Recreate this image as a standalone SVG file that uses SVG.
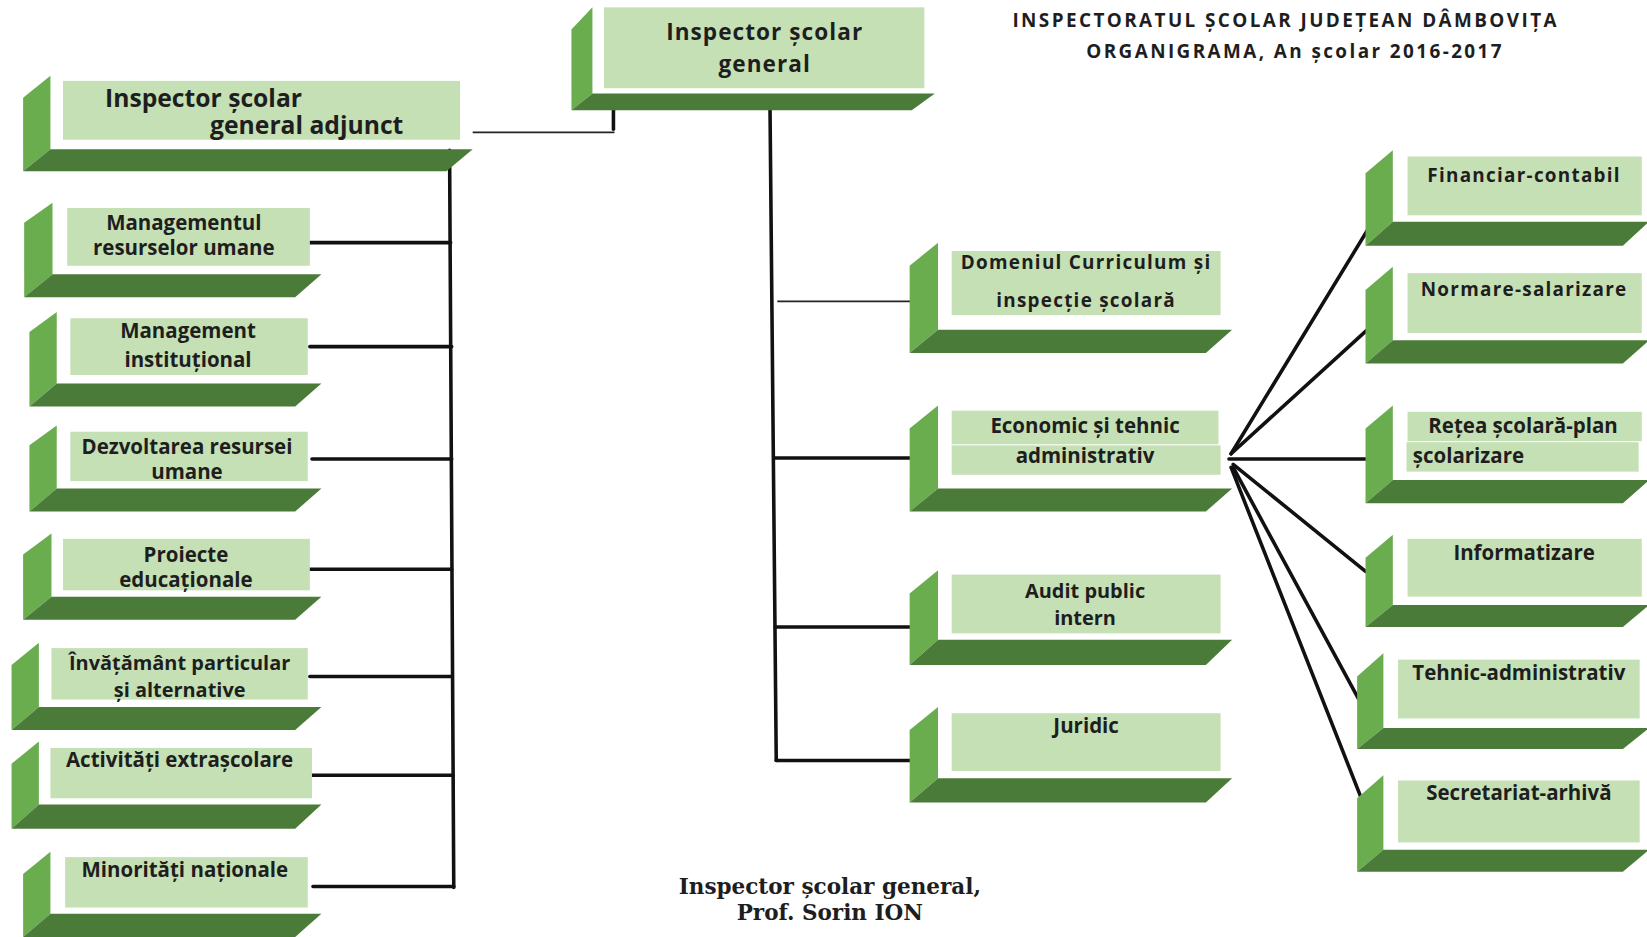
<svg xmlns="http://www.w3.org/2000/svg" width="1647" height="937" viewBox="0 0 1647 937">
<style>
.lf{fill:#6aad4f}
.bf{fill:#4b7b38}
.lb{fill:#c5e0b4}
.t{font-family:"Open Sans","Liberation Sans",sans-serif;font-weight:bold;fill:#1e1e1e;text-anchor:middle;font-size:19.5px}
.s{letter-spacing:1.2px;font-size:18px}
.c{stroke:#111;stroke-width:3.4;fill:none;stroke-linecap:round}
.th{stroke:#222;stroke-width:1.6;fill:none}
.hd{font-family:"Open Sans","Liberation Sans",sans-serif;font-weight:bold;fill:#1e1e1e;text-anchor:middle;font-size:18px;letter-spacing:2.3px}
.sg{font-family:"DejaVu Serif","Liberation Serif",serif;font-weight:bold;fill:#1e1e1e;text-anchor:middle;font-size:20.5px}
</style>
<rect width="1647" height="937" fill="#ffffff"/>
<g transform="scale(1.0504)">
<g id="connectors">
<path class="th" d="M450,126 L585,126"/>
<path class="c" d="M584,96 L584,123"/>
<path class="c" d="M733,96 L739,724"/>
<path class="th" d="M740,287 L880,287"/>
<path class="c" d="M737,436 L873,436"/>
<path class="c" d="M738,597 L873,597"/>
<path class="c" d="M739,724 L873,724"/>
<path class="c" d="M428,143 L432,845"/>
<path class="c" d="M295,231 L429,231"/>
<path class="c" d="M295,330 L430,330"/>
<path class="c" d="M297,437 L430,437"/>
<path class="c" d="M295,542 L430,542"/>
<path class="c" d="M295,644 L430,644"/>
<path class="c" d="M297,738 L431,738"/>
<path class="c" d="M298,844 L432,844"/>
<path class="c" d="M1172,432 L1305,214"/>
<path class="c" d="M1172,432 L1305,311"/>
<path class="c" d="M1170,437 L1305,437"/>
<path class="c" d="M1174,442 L1300,544"/>
<path class="c" d="M1174,445 L1298,674"/>
<path class="c" d="M1172,445 L1298,765"/>
</g>

<g id="n-general">
<polygon class="lf" points="544,28 564,7 564,89 544,105"/>
<polygon class="bf" points="544,105 564,89 890,89 868,105"/>
<rect class="lb" x="575" y="7" width="305" height="77"/>
<text class="t" x="728" y="38" style="font-size:21.5px;letter-spacing:1px">Inspector școlar</text>
<text class="t" x="728" y="69" style="font-size:21.5px;letter-spacing:1px">general</text>
</g>

<g id="n-adjunct">
<polygon class="lf" points="22,93 48,72 48,142 22,163"/>
<polygon class="bf" points="22,163 48,142 450,142 425,163"/>
<rect class="lb" x="60" y="77" width="378" height="56"/>
<text class="t" x="100" y="102" style="text-anchor:start;font-size:23.5px">Inspector școlar</text>
<text class="t" x="200" y="128" style="text-anchor:start;font-size:23.5px">general adjunct</text>
</g>

<g id="n-mru">
<polygon class="lf" points="23,212 50,193 50,261 23,283"/>
<polygon class="bf" points="23,283 50,261 306,261 281,283"/>
<rect class="lb" x="64" y="198" width="231" height="55"/>
<text class="t" x="175" y="219">Managementul</text>
<text class="t" x="175" y="243">resurselor umane</text>
</g>

<g id="n-mi">
<polygon class="lf" points="28,316 54,297 54,365 28,387"/>
<polygon class="bf" points="28,387 54,365 306,365 281,387"/>
<rect class="lb" x="67" y="303" width="226" height="54"/>
<text class="t" x="179" y="322">Management</text>
<text class="t" x="179" y="349">instituțional</text>
</g>

<g id="n-dru">
<polygon class="lf" points="28,424 54,405 54,465 28,487"/>
<polygon class="bf" points="28,487 54,465 306,465 281,487"/>
<rect class="lb" x="67" y="411" width="226" height="47"/>
<text class="t" x="178" y="432">Dezvoltarea resursei</text>
<text class="t" x="178" y="456">umane</text>
</g>

<g id="n-pe">
<polygon class="lf" points="22,528 49,508 49,568 22,590"/>
<polygon class="bf" points="22,590 49,568 306,568 281,590"/>
<rect class="lb" x="60" y="513" width="235" height="49"/>
<text class="t" x="177" y="535">Proiecte</text>
<text class="t" x="177" y="559">educaționale</text>
</g>

<g id="n-ipa">
<polygon class="lf" points="11,633 37,612 37,673 11,695"/>
<polygon class="bf" points="11,695 37,673 306,673 281,695"/>
<rect class="lb" x="49" y="617" width="244" height="49"/>
<text class="t" x="171" y="638" style="font-size:19px">Învățământ particular</text>
<text class="t" x="171" y="664" style="font-size:19px">și alternative</text>
</g>

<g id="n-ae">
<polygon class="lf" points="11,727 37,706 37,766 11,789"/>
<polygon class="bf" points="11,789 37,766 306,766 281,789"/>
<rect class="lb" x="48" y="712" width="249" height="48"/>
<text class="t" x="171" y="730">Activități extrașcolare</text>
</g>

<g id="n-mn">
<polygon class="lf" points="22,832 48,811 48,870 22,892"/>
<polygon class="bf" points="22,892 48,870 306,870 281,892"/>
<rect class="lb" x="62" y="816" width="231" height="48"/>
<text class="t" x="176" y="835">Minorități naționale</text>
</g>

<g id="n-dc">
<polygon class="lf" points="866,253 893,231 893,314 866,336"/>
<polygon class="bf" points="866,336 893,314 1173,314 1148,336"/>
<rect class="lb" x="906" y="239" width="256" height="61"/>
<text class="t s" x="1034" y="256">Domeniul Curriculum și</text>
<text class="t s" x="1034" y="292">inspecție școlară</text>
</g>

<g id="n-eta">
<polygon class="lf" points="866,408 893,386 893,465 866,487"/>
<polygon class="bf" points="866,487 893,465 1173,465 1148,487"/>
<rect class="lb" x="906" y="391" width="254" height="32"/>
<rect class="lb" x="906" y="424" width="256" height="28"/>
<text class="t" x="1033" y="412">Economic și tehnic</text>
<text class="t" x="1033" y="441">administrativ</text>
</g>

<g id="n-api">
<polygon class="lf" points="866,565 893,543 893,609 866,633"/>
<polygon class="bf" points="866,633 893,609 1173,609 1148,633"/>
<rect class="lb" x="906" y="547" width="256" height="56"/>
<text class="t" x="1033" y="569" style="font-size:19px">Audit public</text>
<text class="t" x="1033" y="595" style="font-size:19px">intern</text>
</g>

<g id="n-jur">
<polygon class="lf" points="866,695 893,673 893,741 866,764"/>
<polygon class="bf" points="866,764 893,741 1173,741 1148,764"/>
<rect class="lb" x="906" y="679" width="256" height="55"/>
<text class="t" x="1034" y="698">Juridic</text>
</g>

<g id="n-fc">
<polygon class="lf" points="1300,165 1326,143 1326,211 1300,234"/>
<polygon class="bf" points="1300,234 1326,211 1570,211 1545,234"/>
<rect class="lb" x="1340" y="149" width="223" height="56"/>
<text class="t s" x="1451" y="173">Financiar-contabil</text>
</g>

<g id="n-ns">
<polygon class="lf" points="1300,276 1326,254 1326,324 1300,346"/>
<polygon class="bf" points="1300,346 1326,324 1570,324 1545,346"/>
<rect class="lb" x="1340" y="260" width="223" height="57"/>
<text class="t s" x="1451" y="282">Normare-salarizare</text>
</g>

<g id="n-rsp">
<polygon class="lf" points="1300,408 1326,386 1326,457 1300,479"/>
<polygon class="bf" points="1300,479 1326,457 1570,457 1545,479"/>
<rect class="lb" x="1340" y="392" width="223" height="28"/>
<rect class="lb" x="1339" y="421" width="221" height="28"/>
<text class="t" x="1450" y="412">Rețea școlară-plan</text>
<text class="t" x="1345" y="441" style="text-anchor:start">școlarizare</text>
</g>

<g id="n-inf">
<polygon class="lf" points="1300,531 1326,509 1326,576 1300,597"/>
<polygon class="bf" points="1300,597 1326,576 1570,576 1545,597"/>
<rect class="lb" x="1340" y="513" width="223" height="55"/>
<text class="t" x="1451" y="533">Informatizare</text>
</g>

<g id="n-ta">
<polygon class="lf" points="1292,644 1317,622 1317,693 1292,713"/>
<polygon class="bf" points="1292,713 1317,693 1570,693 1545,713"/>
<rect class="lb" x="1331" y="628" width="230" height="56"/>
<text class="t" x="1446" y="647">Tehnic-administrativ</text>
</g>

<g id="n-sa">
<polygon class="lf" points="1292,760 1317,738 1317,809 1292,830"/>
<polygon class="bf" points="1292,830 1317,809 1570,809 1545,830"/>
<rect class="lb" x="1331" y="743" width="230" height="59"/>
<text class="t" x="1446" y="762">Secretariat-arhivă</text>
</g>

<text class="hd" x="1224" y="26">INSPECTORATUL ȘCOLAR JUDEȚEAN DÂMBOVIȚA</text>
<text class="hd" x="1233" y="55">ORGANIGRAMA, An școlar 2016-2017</text>
<text class="sg" x="790" y="851">Inspector școlar general,</text>
<text class="sg" x="790" y="876">Prof. Sorin ION</text>
</g>
</svg>
